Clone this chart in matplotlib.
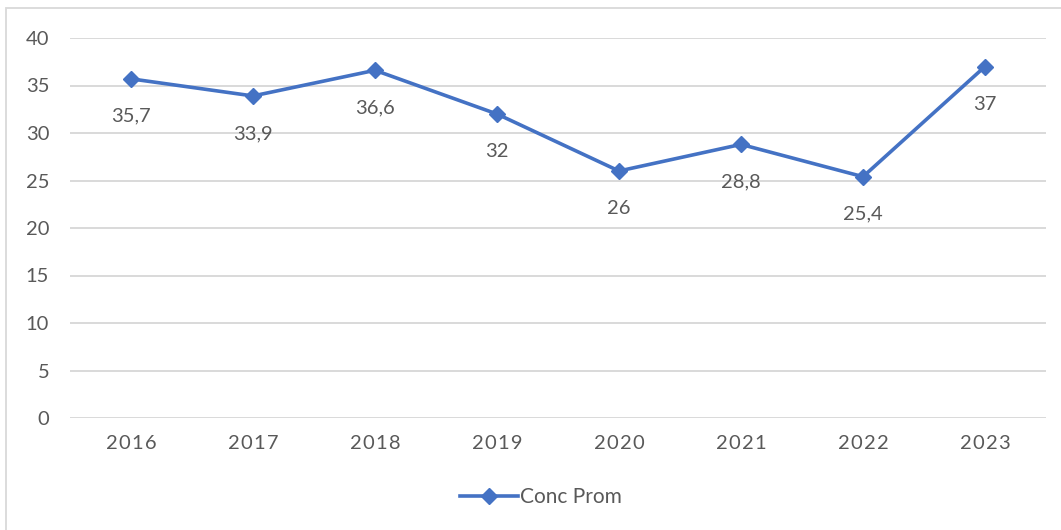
import matplotlib
matplotlib.use("Agg")
import matplotlib.pyplot as plt
from matplotlib.patches import Rectangle

years = ["2016", "2017", "2018", "2019", "2020", "2021", "2022", "2023"]
conc_prom = [35.7, 33.9, 36.6, 32, 26, 28.8, 25.4, 37]
value_labels = ["35,7", "33,9", "36,6", "32", "26", "28,8", "25,4", "37"]
yticks = [0, 5, 10, 15, 20, 25, 30, 35, 40]

plt.rcParams['font.family'] = ['Lato', 'DejaVu Sans']
blue = '#4472C4'
gray_txt = '#595959'
grid_c = '#d9d9d9'

fig = plt.figure(figsize=(10.61, 5.30), dpi=100)
ax = fig.add_axes([70/1061, 1-418/530, 976/1061, 380/530])

# chart border
fig.patches.append(Rectangle((6/1061, -0.1), 1.2, (1-8/530)+0.1, transform=fig.transFigure,
                             fill=False, edgecolor=grid_c, linewidth=1.3))

x = list(range(len(years)))
ax.plot(x, conc_prom, color=blue, linewidth=2.6, marker='D', markersize=8.5,
        label='Conc Prom', zorder=3)

for xi, v, lab in zip(x, conc_prom, value_labels):
    ax.annotate(lab, (xi, v), xytext=(0, -27), textcoords='offset points',
                ha='center', va='center', fontsize=14.5, color=gray_txt)

ax.set_xlim(-0.5, len(years) - 0.5)
ax.set_ylim(0, 40)
ax.set_yticks(yticks)
ax.set_yticklabels([str(t) for t in yticks])
ax.set_xticks(x)
ax.set_xticklabels(["\u200a".join(y) for y in years])
ax.tick_params(axis='both', length=0, labelsize=14.5, labelcolor=gray_txt)
ax.tick_params(axis='y', pad=15)
ax.tick_params(axis='x', pad=12)
ax.yaxis.grid(True, color=grid_c, linewidth=1.4)
ax.set_axisbelow(True)
for s in ax.spines.values():
    s.set_visible(False)

leg = fig.legend(loc='center', bbox_to_anchor=(0.51, 1-497/530), frameon=False,
                 fontsize=15, handlelength=2.8, handletextpad=0.1)
for t in leg.get_texts():
    t.set_color(gray_txt)

fig.savefig('out.png', dpi=100)
